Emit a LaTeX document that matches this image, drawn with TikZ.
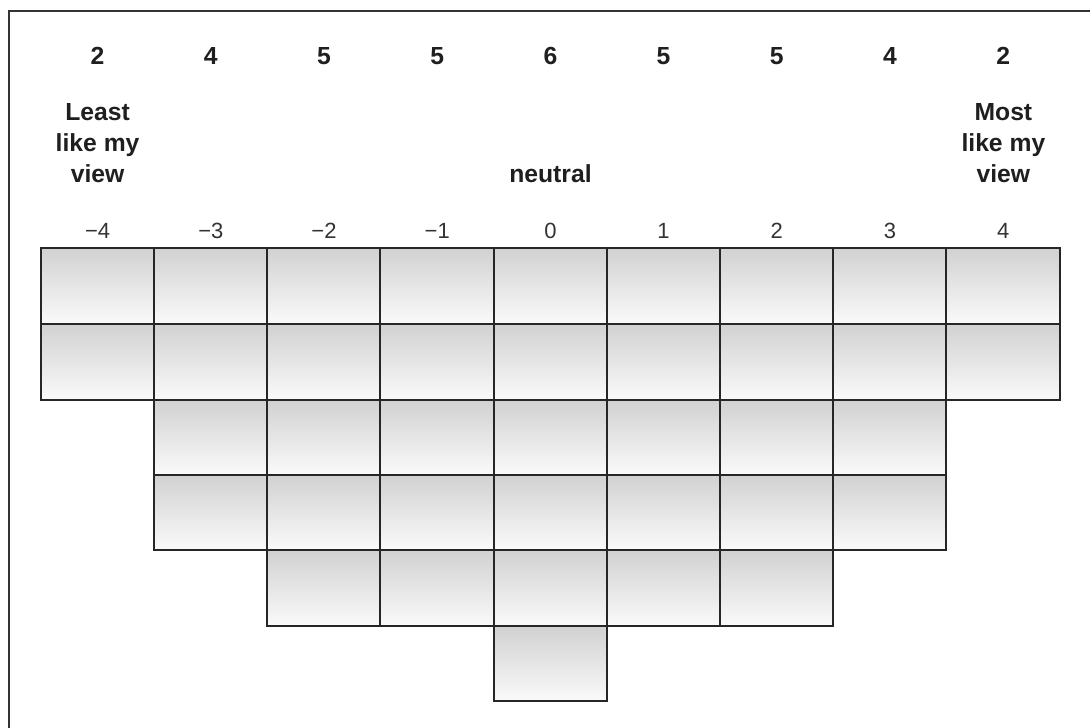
\documentclass[tikz,border=0pt]{standalone}
\usepackage{fontspec}
\setmainfont{Liberation Sans}
\begin{document}
\begin{tikzpicture}[x=1pt,y=-1pt,
  cell/.style={top color=black!18, bottom color=black!2},
  cellborder/.style={draw=black!85, line width=2pt},
  countlbl/.style={font=\fontsize{24.7}{31}\selectfont\bfseries, text=black!88, anchor=base, inner sep=0pt},
  scalelbl/.style={font=\fontsize{22}{26}\selectfont, text=black!80, anchor=base, inner sep=0pt},
  endlbl/.style={font=\fontsize{24.7}{31}\selectfont\bfseries, text=black!88, align=center, anchor=base, inner sep=0pt}]
\useasboundingbox (0,0) rectangle (1090,728);
\fill[white] (0,0) rectangle (1090,728);
\draw[black!80, line width=2pt] (9,728) -- (9,11) -- (1090,11);
% shaded cells
\foreach \i/\xa/\xb/\h in {0/41/154/2,1/154/267/4,2/267/380/5,3/380/494/5,4/494/607/6,5/607/720/5,6/720/833/5,7/833/946/4,8/946/1060/2} {
  \foreach \j/\ya/\yb in {1/248/324,2/324/400,3/400/475,4/475/550,5/550/626,6/626/701} {
    \ifnum\j>\h\relax\else
      \shade[cell] (\xa,\ya) rectangle (\xb,\yb);
    \fi
  }
}
% cell borders
\foreach \i/\xa/\xb/\h in {0/41/154/2,1/154/267/4,2/267/380/5,3/380/494/5,4/494/607/6,5/607/720/5,6/720/833/5,7/833/946/4,8/946/1060/2} {
  \foreach \j/\ya/\yb in {1/248/324,2/324/400,3/400/475,4/475/550,5/550/626,6/626/701} {
    \ifnum\j>\h\relax\else
      \draw[cellborder] (\xa,\ya) rectangle (\xb,\yb);
    \fi
  }
}
% labels
\foreach \i/\h/\s in {0/2/−4,1/4/−3,2/5/−2,3/5/−1,4/6/0,5/5/1,6/5/2,7/4/3,8/2/4} {
  \node[countlbl] (n\i) at ({41+113.2*\i+56.6},64) {\h};
  \node[scalelbl] (s\i) at ({41+113.2*\i+56.6},238) {\s};
}
\node[endlbl] (least) at (97.6,182) {Least\\like my\\view};
\node[endlbl] (most) at (1003.4,182) {Most\\like my\\view};
\node[countlbl] (neutral) at (550.5,182) {neutral};
\end{tikzpicture}
\end{document}
